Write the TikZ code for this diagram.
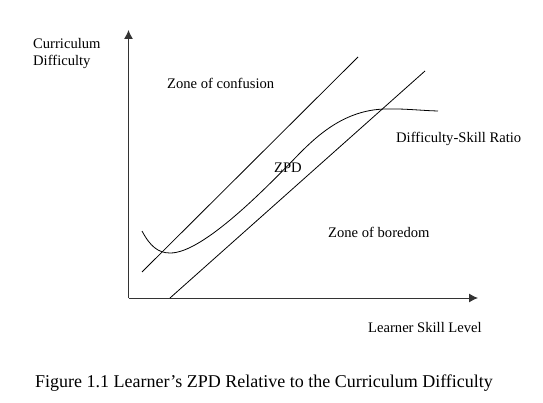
\documentclass[tikz,border=0pt]{standalone}
\usepackage{fontspec}
\setmainfont{Liberation Serif}
\usetikzlibrary{arrows.meta}
\begin{document}
\begin{tikzpicture}[x=1pt,y=-1pt,
  lbl/.style={inner sep=0pt,font=\fontsize{14.6}{17}\selectfont},
  axis/.style={line width=1pt,draw=black!80,-{Latex[length=9pt,width=9pt]}},
  thin line/.style={line width=0.8pt}]
\useasboundingbox (0,0) rectangle (543,403);
% axes
\coordinate (O) at (128.5,298);
\coordinate (ytip) at (128.5,30);
\coordinate (xtip) at (478,298);
\draw[axis] (O) -- (ytip);
\draw[axis] (O) -- (xtip);
% boundary lines
\coordinate (u1) at (142,272);
\coordinate (u2) at (358,57);
\coordinate (l1) at (170,298);
\coordinate (l2) at (425,71);
\draw[thin line] (u1) -- (u2);
\draw[thin line] (l1) -- (l2);
% difficulty-skill curve
\coordinate (c0) at (142,231);
\coordinate (c1) at (170,253);
\coordinate (c2) at (300,153);
\coordinate (c3) at (385,109);
\coordinate (c4) at (438,111);
\draw[thin line] (c0) .. controls (150,246) and (158,253) .. (c1)
  .. controls (203,253.5) and (268,186) .. (c2)
  .. controls (318,135) and (345,110) .. (c3)
  .. controls (405,108.5) and (420,110.5) .. (c4);
% labels
\node[lbl,anchor=base west] (yl) at (33,49) {Curriculum};
\node[lbl,anchor=base west] (yl2) at (33,65.5) {Difficulty};
\node[lbl,anchor=base west] (conf) at (167,89) {Zone of confusion};
\node[lbl,anchor=base west] (zpd) at (274,173) {ZPD};
\node[lbl,anchor=base west] (bore) at (328,237) {Zone of boredom};
\node[lbl,anchor=base west] (ratio) at (396,143) {Difficulty-Skill Ratio};
\node[lbl,anchor=base west] (xl) at (368,332) {Learner Skill Level};
\node[inner sep=0pt,anchor=base west,font=\fontsize{18}{21}\selectfont] (cap) at (35,387) {Figure 1.1 Learner’s ZPD Relative to the Curriculum Difficulty};
\end{tikzpicture}
\end{document}
